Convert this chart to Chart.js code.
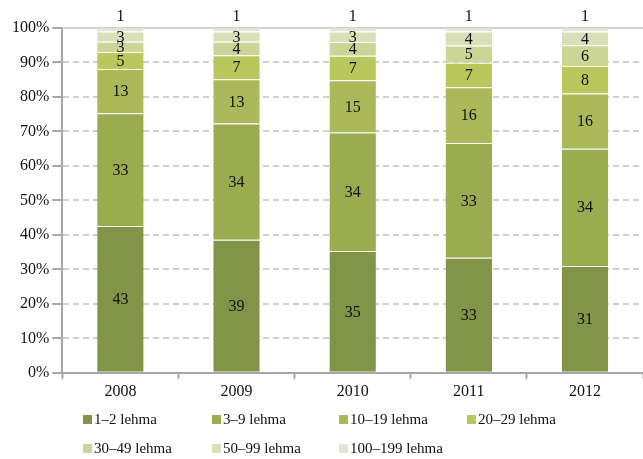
<!DOCTYPE html>
<html>
<head>
<meta charset="utf-8">
<script src="https://cdn.jsdelivr.net/npm/chart.js@4.4.1/dist/chart.umd.min.js"></script>
<style>
  html, body { margin: 0; padding: 0; background: #fff; }
  #wrap { width: 643px; height: 459px; position: relative; }
</style>
</head>
<body>
<div id="wrap"><canvas id="herdChart"></canvas></div>
<script>
// Herd size shares per year (%, rounded as printed)
const years = ['2008', '2009', '2010', '2011', '2012'];
const herdGroups = ['1–2 lehma', '3–9 lehma', '10–19 lehma', '20–29 lehma', '30–49 lehma', '50–99 lehma', '100–199 lehma'];
const herd1to2 = [43, 39, 35, 33, 31];
const herd3to9 = [33, 34, 34, 33, 34];
const herd10to19 = [13, 13, 15, 16, 16];
const herd20to29 = [5, 7, 7, 7, 8];
const herd30to49 = [3, 4, 4, 5, 6];
const herd50to99 = [3, 3, 3, 4, 4];
const herd100to199 = [1, 1, 1, 1, 1];
const yTickValues = [0, 10, 20, 30, 40, 50, 60, 70, 80, 90, 100];

const series = [herd1to2, herd3to9, herd10to19, herd20to29, herd30to49, herd50to99, herd100to199];
const colours = ['#819447', '#9bab50', '#abb95a', '#b9c75c', '#cbd597', '#d9dfb8', '#e2e5cf'];
const FONT = 'Liberation Serif, Times New Roman, serif';

// each column is scaled to 100 %
const totals = years.map((y, i) => series.reduce((s, arr) => s + arr[i], 0));

const datasets = series.map((arr, k) => ({
  label: herdGroups[k],
  data: arr.map((v, i) => v / totals[i] * 100),
  raw: arr,
  backgroundColor: colours[k],
  borderColor: 'rgba(255,255,255,0.3)',
  borderWidth: {top: 1},
  borderSkipped: false,
  barPercentage: 0.8,
  categoryPercentage: 0.5
}));

// values written inside the segments, the smallest group sits above the column
const segmentLabels = {
  id: 'segmentLabels',
  afterDatasetsDraw(chart) {
    const ctx = chart.ctx;
    ctx.save();
    ctx.font = '16px ' + FONT;
    ctx.fillStyle = '#111';
    ctx.textAlign = 'center';
    ctx.textBaseline = 'middle';
    const last = chart.data.datasets.length - 1;
    chart.data.datasets.forEach((ds, k) => {
      chart.getDatasetMeta(k).data.forEach((bar, i) => {
        let y = (bar.y + bar.base) / 2;
        if (k === last) y = chart.chartArea.top - 12;
        ctx.fillText(String(ds.raw[i]), bar.x, y + 1);
      });
    });
    ctx.restore();
  }
};

// solid frame line along 100 %
const topLine = {
  id: 'topLine',
  beforeDatasetsDraw(chart) {
    const a = chart.chartArea, ctx = chart.ctx;
    ctx.save();
    ctx.strokeStyle = '#d0d0d0';
    ctx.lineWidth = 2;
    ctx.beginPath();
    ctx.moveTo(a.left, a.top);
    ctx.lineTo(a.right, a.top);
    ctx.stroke();
    ctx.restore();
  }
};

// legend laid out as a fixed grid, four columns
const gridLegend = {
  id: 'gridLegend',
  afterDraw(chart) {
    const ctx = chart.ctx;
    const colX = [83, 212, 339, 467];
    const rowY = [420, 449];
    ctx.save();
    ctx.font = '15px ' + FONT;
    ctx.textBaseline = 'middle';
    chart.data.datasets.forEach((ds, k) => {
      const x = colX[k % 4], y = rowY[Math.floor(k / 4)];
      ctx.fillStyle = ds.backgroundColor;
      ctx.fillRect(x, y - 5, 9, 9);
      ctx.fillStyle = '#111';
      ctx.fillText(ds.label, x + 11, y);
    });
    ctx.restore();
  }
};

new Chart(document.getElementById('herdChart'), {
  type: 'bar',
  data: { labels: years, datasets: datasets },
  options: {
    responsive: true,
    maintainAspectRatio: false,
    animation: false,
    layout: { padding: { top: 28, left: 9, right: 0, bottom: 55 } },
    plugins: {
      legend: { display: false },
      tooltip: { enabled: false }
    },
    scales: {
      x: {
        stacked: true,
        grid: {
          offset: true,
          drawOnChartArea: false,
          drawTicks: true,
          tickLength: 6,
          tickColor: '#a6a6a6',
          tickWidth: 2
        },
        border: { color: '#a6a6a6', width: 2 },
        ticks: { color: '#111', font: { family: FONT, size: 16 }, padding: 3 }
      },
      y: {
        stacked: true,
        min: 0,
        max: 100,
        afterBuildTicks(scale) { scale.ticks = yTickValues.map(v => ({ value: v })); },
        grid: {
          color: '#cfcfcf',
          lineWidth: 2,
          tickLength: 10,
          tickColor: '#a6a6a6',
          tickBorderDash: [],
          tickWidth: 2
        },
        border: { color: '#a6a6a6', width: 2, dash: [6, 4] },
        ticks: {
          color: '#111',
          font: { family: FONT, size: 16 },
          padding: 3,
          callback: v => v + '%'
        }
      }
    }
  },
  plugins: [topLine, segmentLabels, gridLegend]
});
</script>
</body>
</html>
